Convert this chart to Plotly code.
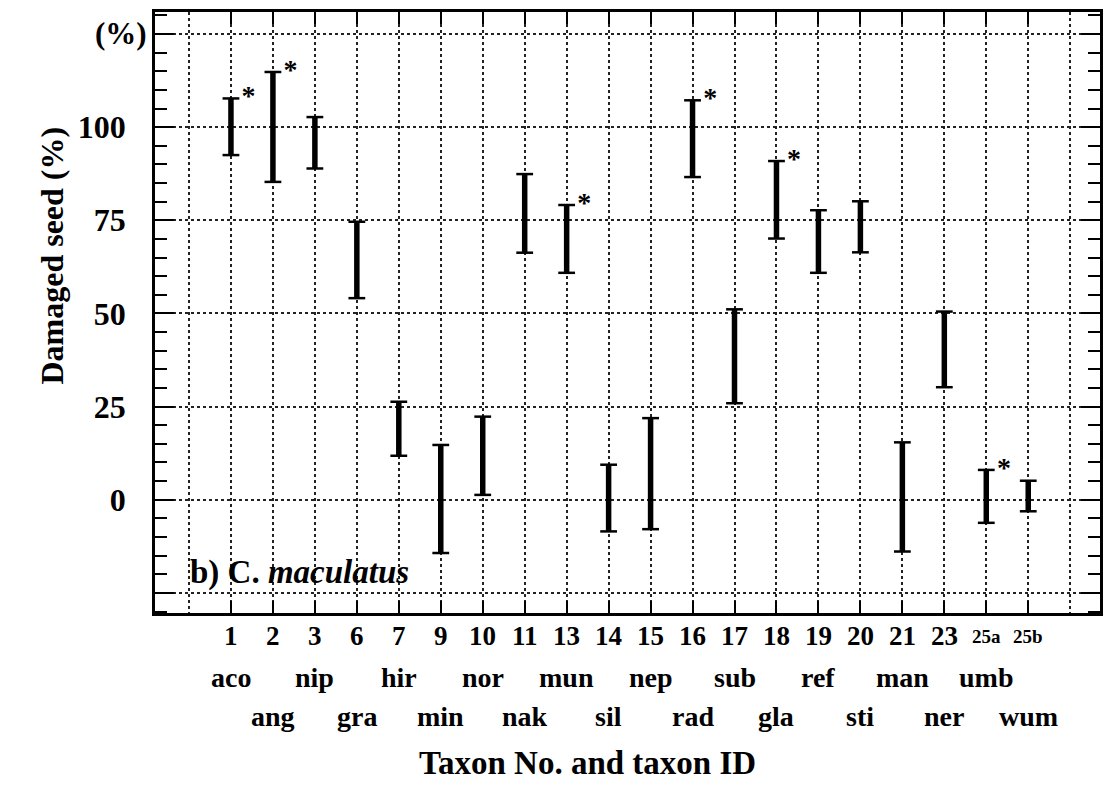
import plotly.graph_objects as go

# taxa in plotting order
taxon_no = ["1", "2", "3", "6", "7", "9", "10", "11", "13", "14",
            "15", "16", "17", "18", "19", "20", "21", "23", "25a", "25b"]
taxon_id = ["aco", "ang", "nip", "gra", "hir", "min", "nor", "nak", "mun", "sil",
            "nep", "rad", "sub", "gla", "ref", "sti", "man", "ner", "umb", "wum"]
# damaged seed (%) interval
low = [92.5, 85.3, 88.9, 54.1, 11.8, -14.3, 1.3, 66.3, 60.9, -8.5,
       -7.9, 86.6, 25.9, 70.1, 60.9, 66.4, -13.9, 30.2, -6.2, -3.1]
high = [107.7, 114.8, 102.7, 74.6, 26.3, 14.7, 22.3, 87.4, 79.1, 9.4,
        21.9, 107.2, 51.1, 90.9, 77.7, 80.1, 15.4, 50.5, 8.0, 5.1]
starred = ["1", "2", "13", "16", "18", "25a"]

y_ticks = [-25, 0, 25, 50, 75, 100, 125]
y_labels = ["", "0", "25", "50", "75", "100", ""]

pos = list(range(1, len(taxon_no) + 1))
FONT = "Liberation Serif, Times New Roman, serif"
GRID = dict(showgrid=True, gridcolor="#222", gridwidth=1.5, griddash="dot")

fig = go.Figure()

# vertical bars
bx, by = [], []
for p, lo, hi in zip(pos, low, high):
    bx += [p, p, None]
    by += [lo, hi, None]
fig.add_trace(go.Scatter(x=bx, y=by, mode="lines",
                         line=dict(color="black", width=5.5), hoverinfo="skip"))

# end caps
fig.add_trace(go.Scatter(x=pos + pos, y=low + high, mode="markers",
                         marker=dict(symbol="line-ew", size=12, color="black",
                                     line=dict(color="black", width=2.5)),
                         hoverinfo="skip"))

# asterisks
sx = [p + 0.42 for p, t in zip(pos, taxon_no) if t in starred]
sy = [h for h, t in zip(high, taxon_no) if t in starred]
fig.add_trace(go.Scatter(x=sx, y=sy, mode="text", text=["*"] * len(sx),
                         textfont=dict(family=FONT, size=28, color="black", weight="bold"),
                         hoverinfo="skip"))

fig.update_xaxes(
    range=[-0.81, 21.71], tickmode="array", tickvals=pos, showticklabels=False,
    ticks="inside", ticklen=12, tickwidth=1.5, tickcolor="black",
    showline=True, linewidth=2.5, linecolor="black", mirror="ticks",
    minor=dict(tick0=0, dtick=1, ticks="", **GRID),
    zeroline=False, **GRID,
)
fig.update_yaxes(
    range=[-30.4, 130.9], tickmode="array", tickvals=y_ticks, ticktext=y_labels,
    ticks="inside", ticklen=19, tickwidth=2, tickcolor="black",
    showline=True, linewidth=2.5, linecolor="black", mirror="ticks",
    minor=dict(dtick=5, tick0=0, ticks="inside", ticklen=12, tickwidth=2,
               tickcolor="black", showgrid=False),
    tickfont=dict(family=FONT, size=32, color="black", weight="bold"),
    ticklabelstandoff=20, zeroline=False, **GRID,
)

# taxon numbers, then IDs on two alternating lines
for i, (p, no, name) in enumerate(zip(pos, taxon_no, taxon_id)):
    fig.add_annotation(x=p, y=0, xref="x", yref="paper", text=no,
                       showarrow=False, yanchor="middle", yshift=-23,
                       font=dict(family=FONT, size=19 if len(no) > 2 else 27,
                                 color="black", weight="bold"))
    fig.add_annotation(x=p, y=0, xref="x", yref="paper", text=name,
                       showarrow=False, yanchor="middle",
                       yshift=-64 if i % 2 == 0 else -103,
                       font=dict(family=FONT, size=28, color="black", weight="bold"))

fig.add_annotation(x=-0.006, y=125, xref="paper", yref="y", xanchor="right", text="(%)",
                   showarrow=False, font=dict(family=FONT, size=31, color="black", weight="bold"))
fig.add_annotation(x=-0.13, y=0.595, xref="paper", yref="paper", text="Damaged seed (%)",
                   textangle=-90, showarrow=False,
                   font=dict(family=FONT, size=32, color="black", weight="bold"))
fig.add_annotation(x=0.458, y=0, xref="paper", yref="paper", yshift=-150,
                   text="Taxon No. and taxon ID", showarrow=False, yanchor="middle",
                   font=dict(family=FONT, size=33, color="black", weight="bold"))
fig.add_annotation(x=0.035, y=-19.5, xref="paper", yref="y", xanchor="left",
                   text="b) C. <i>maculatus</i>", showarrow=False,
                   font=dict(family=FONT, size=33, color="black", weight="bold"))

fig.update_layout(
    width=1103, height=785, showlegend=False,
    margin=dict(l=155, r=0, t=12, b=172),
    paper_bgcolor="white", plot_bgcolor="white",
)

fig.write_html("out.html", config={"displayModeBar": False},
               post_script="document.body.style.margin='0';")
